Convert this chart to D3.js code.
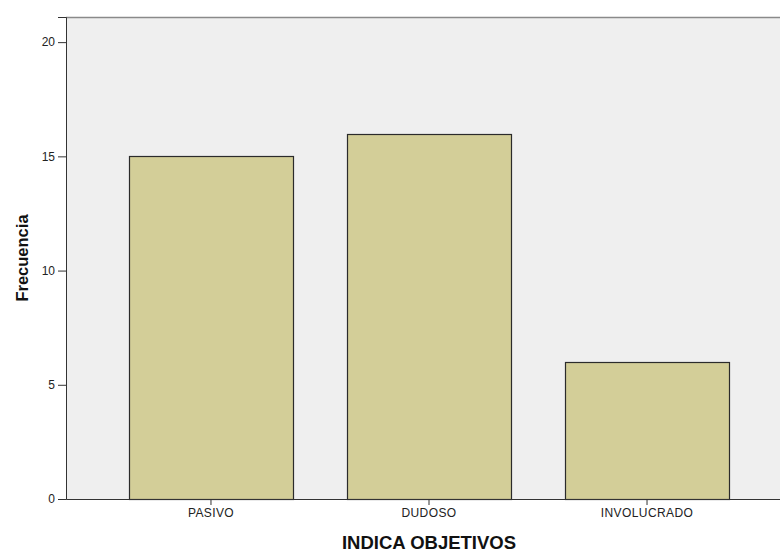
<!DOCTYPE html>
<html><head><meta charset="utf-8">
<script src="https://cdn.jsdelivr.net/npm/d3@7"></script>
<style>body{margin:0;background:#fff}svg{display:block;font-family:"Liberation Sans",Arial,sans-serif}</style>
</head><body><svg id="c" width="780" height="552"></svg>
<script>
const categories = ["PASIVO", "DUDOSO", "INVOLUCRADO"];
const frecuencia = [15, 16, 6];
const yTicks = [0, 5, 10, 15, 20];
const xTitle = "INDICA OBJETIVOS";
const yTitle = "Frecuencia";

const svg = d3.select("#c");
const L = 66, T = 17, R = 792, B = 499;
const x = d3.scaleBand().domain(categories).range([L, R]).paddingInner(0.25).paddingOuter(0.29);
const y = d3.scaleLinear().domain([0, 21.1]).range([B, T]);

svg.append("rect").attr("x", L).attr("y", T).attr("width", R - L).attr("height", B - T).attr("fill", "#efefef");
svg.append("line").attr("x1", L).attr("x2", R).attr("y1", T + 0.5).attr("y2", T + 0.5).attr("stroke", "#8a8a8a").attr("stroke-width", 1.5);

svg.selectAll("rect.bar").data(frecuencia).enter().append("rect").attr("class", "bar")
  .attr("x", (d, i) => Math.round(x(categories[i])) + 0.5)
  .attr("y", d => Math.round(y(d)) + 0.5)
  .attr("width", Math.round(x.bandwidth()))
  .attr("height", d => B - Math.round(y(d)))
  .attr("fill", "#d3ce98").attr("stroke", "#2b2b2b").attr("stroke-width", 1.2);

const ya = svg.append("g").attr("transform", `translate(${L},0)`)
  .call(d3.axisLeft(y).tickValues(yTicks).tickSize(8).tickPadding(3));
ya.select(".domain").attr("stroke", "#333");
ya.selectAll(".tick line").attr("stroke", "#333");
ya.selectAll("text").attr("font-size", "12px").attr("fill", "#222").attr("font-family", "Liberation Sans, Arial, sans-serif");

const xa = svg.append("g").attr("transform", `translate(0,${B})`)
  .call(d3.axisBottom(x).tickSize(6).tickSizeOuter(0).tickPadding(3));
xa.select(".domain").attr("stroke", "#333");
xa.selectAll(".tick line").attr("stroke", "#333");
xa.selectAll("text").attr("font-size", "12px").attr("fill", "#222").attr("font-family", "Liberation Sans, Arial, sans-serif").attr("letter-spacing", "0.4px");

svg.append("text").attr("x", x("DUDOSO") + x.bandwidth() / 2).attr("y", 549)
  .attr("text-anchor", "middle").attr("font-size", "18.5px").attr("font-weight", "bold").attr("fill", "#111").text(xTitle);
svg.append("text").attr("transform", `translate(27.5,${(T + B) / 2}) rotate(-90)`)
  .attr("text-anchor", "middle").attr("font-size", "16.5px").attr("font-weight", "bold").attr("fill", "#111").text(yTitle);
</script></body></html>
